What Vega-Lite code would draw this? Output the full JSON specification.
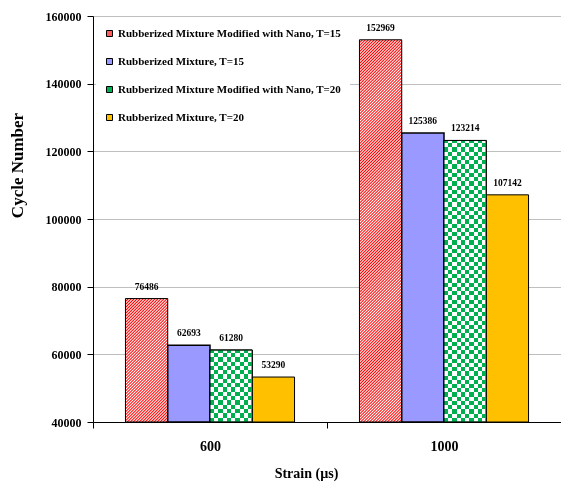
{
  "$schema": "https://vega.github.io/schema/vega-lite/v6.json",
  "width": 468,
  "height": 406,
  "autosize": {"type": "none"},
  "padding": {"left": 93, "top": 16, "right": 0, "bottom": 61},
  "background": "white",
  "config": {
    "view": {"stroke": null},
    "font": "Liberation Serif"
  },
  "data": {
    "values": [
      {"strain": "600", "series": "Rubberized Mixture Modified with Nano, T=15", "cycles": 76486},
      {"strain": "600", "series": "Rubberized Mixture, T=15", "cycles": 62693},
      {"strain": "600", "series": "Rubberized Mixture Modified with Nano, T=20", "cycles": 61280},
      {"strain": "600", "series": "Rubberized Mixture, T=20", "cycles": 53290},
      {"strain": "1000", "series": "Rubberized Mixture Modified with Nano, T=15", "cycles": 152969},
      {"strain": "1000", "series": "Rubberized Mixture, T=15", "cycles": 125386},
      {"strain": "1000", "series": "Rubberized Mixture Modified with Nano, T=20", "cycles": 123214},
      {"strain": "1000", "series": "Rubberized Mixture, T=20", "cycles": 107142}
    ]
  },
  "encoding": {
    "x": {
      "field": "strain",
      "type": "nominal",
      "sort": ["600", "1000"],
      "scale": {"paddingInner": 0, "paddingOuter": 0},
      "axis": {
        "title": "Strain (µs)",
        "tickBand": "extent",
        "grid": false,
        "domainColor": "black",
        "tickColor": "black",
        "tickSize": 6,
        "labelAngle": 0,
        "labelFontSize": 14,
        "labelFontWeight": "bold",
        "labelColor": "black",
        "labelPadding": 11,
        "titleFontSize": 14,
        "titleFontWeight": "bold",
        "titleColor": "black",
        "titleX": 213,
        "titleY": 55,
        "titleAlign": "center",
        "titleBaseline": "alphabetic"
      }
    },
    "xOffset": {
      "field": "series",
      "type": "nominal",
      "scale": {
        "domain": [
          "Rubberized Mixture Modified with Nano, T=15",
          "Rubberized Mixture, T=15",
          "Rubberized Mixture Modified with Nano, T=20",
          "Rubberized Mixture, T=20"
        ],
        "paddingInner": 0,
        "paddingOuter": 0.768
      }
    },
    "y": {
      "field": "cycles",
      "type": "quantitative",
      "scale": {"domain": [40000, 160000], "nice": false, "zero": false},
      "axis": {
        "title": "Cycle Number",
        "values": [40000, 60000, 80000, 100000, 120000, 140000, 160000],
        "format": "d",
        "grid": true,
        "gridColor": "#bfbfbf",
        "domainColor": "black",
        "tickColor": "black",
        "tickSize": 6,
        "labelFontSize": 12,
        "labelFontWeight": "bold",
        "labelColor": "black",
        "labelPadding": 6,
        "titleFontSize": 17,
        "titleFontWeight": "bold",
        "titleColor": "black",
        "titleX": -71,
        "titleY": 149,
        "titleAlign": "center",
        "titleBaseline": "alphabetic"
      }
    },
    "y2": {"datum": 40000}
  },
  "layer": [
    {
      "mark": {"type": "bar", "stroke": "black"},
      "encoding": {
        "strokeWidth": {
          "condition": {"test": "datum.series === 'Rubberized Mixture, T=15'", "value": 1.5},
          "value": 1
        },
        "fill": {
          "field": "series",
          "type": "nominal",
          "scale": {
            "domain": [
              "Rubberized Mixture Modified with Nano, T=15",
              "Rubberized Mixture, T=15",
              "Rubberized Mixture Modified with Nano, T=20",
              "Rubberized Mixture, T=20"
            ],
            "range": ["#ff5c5c", "#9999ff", "#00b050", "#ffc000"]
          },
          "condition": [
            {
              "test": "datum.series === 'Rubberized Mixture Modified with Nano, T=15' && datum.strain === '600'",
              "value": {
                "gradient": "linear", "x1": 0, "y1": 0, "x2": 0.4115, "y2": 1.2015,
                "stops": [
                  {"offset": 0, "color": "red"}, {"offset": 0.009, "color": "white"}, {"offset": 0.018, "color": "red"}, {"offset": 0.027, "color": "white"},
                  {"offset": 0.036, "color": "red"}, {"offset": 0.045, "color": "white"}, {"offset": 0.054, "color": "red"}, {"offset": 0.063, "color": "white"},
                  {"offset": 0.072, "color": "red"}, {"offset": 0.081, "color": "white"}, {"offset": 0.09, "color": "red"}, {"offset": 0.099, "color": "white"},
                  {"offset": 0.108, "color": "red"}, {"offset": 0.117, "color": "white"}, {"offset": 0.126, "color": "red"}, {"offset": 0.135, "color": "white"},
                  {"offset": 0.144, "color": "red"}, {"offset": 0.153, "color": "white"}, {"offset": 0.162, "color": "red"}, {"offset": 0.171, "color": "white"},
                  {"offset": 0.18, "color": "red"}, {"offset": 0.189, "color": "white"}, {"offset": 0.198, "color": "red"}, {"offset": 0.207, "color": "white"},
                  {"offset": 0.216, "color": "red"}, {"offset": 0.225, "color": "white"}, {"offset": 0.234, "color": "red"}, {"offset": 0.243, "color": "white"},
                  {"offset": 0.252, "color": "red"}, {"offset": 0.261, "color": "white"}, {"offset": 0.27, "color": "red"}, {"offset": 0.279, "color": "white"},
                  {"offset": 0.288, "color": "red"}, {"offset": 0.297, "color": "white"}, {"offset": 0.306, "color": "red"}, {"offset": 0.315, "color": "white"},
                  {"offset": 0.324, "color": "red"}, {"offset": 0.333, "color": "white"}, {"offset": 0.342, "color": "red"}, {"offset": 0.351, "color": "white"},
                  {"offset": 0.36, "color": "red"}, {"offset": 0.369, "color": "white"}, {"offset": 0.378, "color": "red"}, {"offset": 0.387, "color": "white"},
                  {"offset": 0.396, "color": "red"}, {"offset": 0.405, "color": "white"}, {"offset": 0.414, "color": "red"}, {"offset": 0.423, "color": "white"},
                  {"offset": 0.432, "color": "red"}, {"offset": 0.441, "color": "white"}, {"offset": 0.45, "color": "red"}, {"offset": 0.459, "color": "white"},
                  {"offset": 0.468, "color": "red"}, {"offset": 0.477, "color": "white"}, {"offset": 0.486, "color": "red"}, {"offset": 0.495, "color": "white"},
                  {"offset": 0.504, "color": "red"}, {"offset": 0.513, "color": "white"}, {"offset": 0.522, "color": "red"}, {"offset": 0.531, "color": "white"},
                  {"offset": 0.54, "color": "red"}, {"offset": 0.549, "color": "white"}, {"offset": 0.558, "color": "red"}, {"offset": 0.567, "color": "white"},
                  {"offset": 0.576, "color": "red"}, {"offset": 0.585, "color": "white"}, {"offset": 0.594, "color": "red"}, {"offset": 0.603, "color": "white"},
                  {"offset": 0.612, "color": "red"}, {"offset": 0.621, "color": "white"}, {"offset": 0.63, "color": "red"}, {"offset": 0.639, "color": "white"},
                  {"offset": 0.648, "color": "red"}, {"offset": 0.657, "color": "white"}, {"offset": 0.666, "color": "red"}, {"offset": 0.675, "color": "white"},
                  {"offset": 0.684, "color": "red"}, {"offset": 0.693, "color": "white"}, {"offset": 0.702, "color": "red"}, {"offset": 0.711, "color": "white"},
                  {"offset": 0.72, "color": "red"}, {"offset": 0.729, "color": "white"}, {"offset": 0.738, "color": "red"}, {"offset": 0.747, "color": "white"},
                  {"offset": 0.756, "color": "red"}, {"offset": 0.765, "color": "white"}, {"offset": 0.774, "color": "red"}, {"offset": 0.783, "color": "white"},
                  {"offset": 0.792, "color": "red"}, {"offset": 0.801, "color": "white"}, {"offset": 0.81, "color": "red"}, {"offset": 0.819, "color": "white"},
                  {"offset": 0.828, "color": "red"}, {"offset": 0.837, "color": "white"}, {"offset": 0.846, "color": "red"}, {"offset": 0.855, "color": "white"},
                  {"offset": 0.864, "color": "red"}, {"offset": 0.873, "color": "white"}, {"offset": 0.882, "color": "red"}, {"offset": 0.891, "color": "white"},
                  {"offset": 0.9, "color": "red"}, {"offset": 0.909, "color": "white"}, {"offset": 0.918, "color": "red"}, {"offset": 0.927, "color": "white"},
                  {"offset": 0.936, "color": "red"}, {"offset": 0.945, "color": "white"}, {"offset": 0.954, "color": "red"}, {"offset": 0.963, "color": "white"},
                  {"offset": 0.972, "color": "red"}, {"offset": 0.981, "color": "white"}, {"offset": 0.99, "color": "red"}, {"offset": 0.999, "color": "white"}
                ]
              }
            },
            {
              "test": "datum.series === 'Rubberized Mixture Modified with Nano, T=15' && datum.strain === '1000'",
              "value": {
                "gradient": "linear", "x1": 0, "y1": 0, "x2": 0.1213, "y2": 1.0972,
                "stops": [
                  {"offset": 0, "color": "red"}, {"offset": 0.0035, "color": "white"}, {"offset": 0.007, "color": "red"}, {"offset": 0.0105, "color": "white"}, {"offset": 0.014, "color": "red"}, {"offset": 0.0175, "color": "white"}, {"offset": 0.021, "color": "red"}, {"offset": 0.0245, "color": "white"}, {"offset": 0.028, "color": "red"}, {"offset": 0.0315, "color": "white"},
                  {"offset": 0.035, "color": "red"}, {"offset": 0.0385, "color": "white"}, {"offset": 0.042, "color": "red"}, {"offset": 0.0455, "color": "white"}, {"offset": 0.049, "color": "red"}, {"offset": 0.0525, "color": "white"}, {"offset": 0.056, "color": "red"}, {"offset": 0.0595, "color": "white"}, {"offset": 0.063, "color": "red"}, {"offset": 0.0665, "color": "white"},
                  {"offset": 0.07, "color": "red"}, {"offset": 0.0735, "color": "white"}, {"offset": 0.077, "color": "red"}, {"offset": 0.0805, "color": "white"}, {"offset": 0.084, "color": "red"}, {"offset": 0.0875, "color": "white"}, {"offset": 0.091, "color": "red"}, {"offset": 0.0945, "color": "white"}, {"offset": 0.098, "color": "red"}, {"offset": 0.1015, "color": "white"},
                  {"offset": 0.105, "color": "red"}, {"offset": 0.1085, "color": "white"}, {"offset": 0.112, "color": "red"}, {"offset": 0.1155, "color": "white"}, {"offset": 0.119, "color": "red"}, {"offset": 0.1225, "color": "white"}, {"offset": 0.126, "color": "red"}, {"offset": 0.1295, "color": "white"}, {"offset": 0.133, "color": "red"}, {"offset": 0.1365, "color": "white"},
                  {"offset": 0.14, "color": "red"}, {"offset": 0.1435, "color": "white"}, {"offset": 0.147, "color": "red"}, {"offset": 0.1505, "color": "white"}, {"offset": 0.154, "color": "red"}, {"offset": 0.1575, "color": "white"}, {"offset": 0.161, "color": "red"}, {"offset": 0.1645, "color": "white"}, {"offset": 0.168, "color": "red"}, {"offset": 0.1715, "color": "white"},
                  {"offset": 0.175, "color": "red"}, {"offset": 0.1785, "color": "white"}, {"offset": 0.182, "color": "red"}, {"offset": 0.1855, "color": "white"}, {"offset": 0.189, "color": "red"}, {"offset": 0.1925, "color": "white"}, {"offset": 0.196, "color": "red"}, {"offset": 0.1995, "color": "white"}, {"offset": 0.203, "color": "red"}, {"offset": 0.2065, "color": "white"},
                  {"offset": 0.21, "color": "red"}, {"offset": 0.2135, "color": "white"}, {"offset": 0.217, "color": "red"}, {"offset": 0.2205, "color": "white"}, {"offset": 0.224, "color": "red"}, {"offset": 0.2275, "color": "white"}, {"offset": 0.231, "color": "red"}, {"offset": 0.2345, "color": "white"}, {"offset": 0.238, "color": "red"}, {"offset": 0.2415, "color": "white"},
                  {"offset": 0.245, "color": "red"}, {"offset": 0.2485, "color": "white"}, {"offset": 0.252, "color": "red"}, {"offset": 0.2555, "color": "white"}, {"offset": 0.259, "color": "red"}, {"offset": 0.2625, "color": "white"}, {"offset": 0.266, "color": "red"}, {"offset": 0.2695, "color": "white"}, {"offset": 0.273, "color": "red"}, {"offset": 0.2765, "color": "white"},
                  {"offset": 0.28, "color": "red"}, {"offset": 0.2835, "color": "white"}, {"offset": 0.287, "color": "red"}, {"offset": 0.2905, "color": "white"}, {"offset": 0.294, "color": "red"}, {"offset": 0.2975, "color": "white"}, {"offset": 0.301, "color": "red"}, {"offset": 0.3045, "color": "white"}, {"offset": 0.308, "color": "red"}, {"offset": 0.3115, "color": "white"},
                  {"offset": 0.315, "color": "red"}, {"offset": 0.3185, "color": "white"}, {"offset": 0.322, "color": "red"}, {"offset": 0.3255, "color": "white"}, {"offset": 0.329, "color": "red"}, {"offset": 0.3325, "color": "white"}, {"offset": 0.336, "color": "red"}, {"offset": 0.3395, "color": "white"}, {"offset": 0.343, "color": "red"}, {"offset": 0.3465, "color": "white"},
                  {"offset": 0.35, "color": "red"}, {"offset": 0.3535, "color": "white"}, {"offset": 0.357, "color": "red"}, {"offset": 0.3605, "color": "white"}, {"offset": 0.364, "color": "red"}, {"offset": 0.3675, "color": "white"}, {"offset": 0.371, "color": "red"}, {"offset": 0.3745, "color": "white"}, {"offset": 0.378, "color": "red"}, {"offset": 0.3815, "color": "white"},
                  {"offset": 0.385, "color": "red"}, {"offset": 0.3885, "color": "white"}, {"offset": 0.392, "color": "red"}, {"offset": 0.3955, "color": "white"}, {"offset": 0.399, "color": "red"}, {"offset": 0.4025, "color": "white"}, {"offset": 0.406, "color": "red"}, {"offset": 0.4095, "color": "white"}, {"offset": 0.413, "color": "red"}, {"offset": 0.4165, "color": "white"},
                  {"offset": 0.42, "color": "red"}, {"offset": 0.4235, "color": "white"}, {"offset": 0.427, "color": "red"}, {"offset": 0.4305, "color": "white"}, {"offset": 0.434, "color": "red"}, {"offset": 0.4375, "color": "white"}, {"offset": 0.441, "color": "red"}, {"offset": 0.4445, "color": "white"}, {"offset": 0.448, "color": "red"}, {"offset": 0.4515, "color": "white"},
                  {"offset": 0.455, "color": "red"}, {"offset": 0.4585, "color": "white"}, {"offset": 0.462, "color": "red"}, {"offset": 0.4655, "color": "white"}, {"offset": 0.469, "color": "red"}, {"offset": 0.4725, "color": "white"}, {"offset": 0.476, "color": "red"}, {"offset": 0.4795, "color": "white"}, {"offset": 0.483, "color": "red"}, {"offset": 0.4865, "color": "white"},
                  {"offset": 0.49, "color": "red"}, {"offset": 0.4935, "color": "white"}, {"offset": 0.497, "color": "red"}, {"offset": 0.5005, "color": "white"}, {"offset": 0.504, "color": "red"}, {"offset": 0.5075, "color": "white"}, {"offset": 0.511, "color": "red"}, {"offset": 0.5145, "color": "white"}, {"offset": 0.518, "color": "red"}, {"offset": 0.5215, "color": "white"},
                  {"offset": 0.525, "color": "red"}, {"offset": 0.5285, "color": "white"}, {"offset": 0.532, "color": "red"}, {"offset": 0.5355, "color": "white"}, {"offset": 0.539, "color": "red"}, {"offset": 0.5425, "color": "white"}, {"offset": 0.546, "color": "red"}, {"offset": 0.5495, "color": "white"}, {"offset": 0.553, "color": "red"}, {"offset": 0.5565, "color": "white"},
                  {"offset": 0.56, "color": "red"}, {"offset": 0.5635, "color": "white"}, {"offset": 0.567, "color": "red"}, {"offset": 0.5705, "color": "white"}, {"offset": 0.574, "color": "red"}, {"offset": 0.5775, "color": "white"}, {"offset": 0.581, "color": "red"}, {"offset": 0.5845, "color": "white"}, {"offset": 0.588, "color": "red"}, {"offset": 0.5915, "color": "white"},
                  {"offset": 0.595, "color": "red"}, {"offset": 0.5985, "color": "white"}, {"offset": 0.602, "color": "red"}, {"offset": 0.6055, "color": "white"}, {"offset": 0.609, "color": "red"}, {"offset": 0.6125, "color": "white"}, {"offset": 0.616, "color": "red"}, {"offset": 0.6195, "color": "white"}, {"offset": 0.623, "color": "red"}, {"offset": 0.6265, "color": "white"},
                  {"offset": 0.63, "color": "red"}, {"offset": 0.6335, "color": "white"}, {"offset": 0.637, "color": "red"}, {"offset": 0.6405, "color": "white"}, {"offset": 0.644, "color": "red"}, {"offset": 0.6475, "color": "white"}, {"offset": 0.651, "color": "red"}, {"offset": 0.6545, "color": "white"}, {"offset": 0.658, "color": "red"}, {"offset": 0.6615, "color": "white"},
                  {"offset": 0.665, "color": "red"}, {"offset": 0.6685, "color": "white"}, {"offset": 0.672, "color": "red"}, {"offset": 0.6755, "color": "white"}, {"offset": 0.679, "color": "red"}, {"offset": 0.6825, "color": "white"}, {"offset": 0.686, "color": "red"}, {"offset": 0.6895, "color": "white"}, {"offset": 0.693, "color": "red"}, {"offset": 0.6965, "color": "white"},
                  {"offset": 0.7, "color": "red"}, {"offset": 0.7035, "color": "white"}, {"offset": 0.707, "color": "red"}, {"offset": 0.7105, "color": "white"}, {"offset": 0.714, "color": "red"}, {"offset": 0.7175, "color": "white"}, {"offset": 0.721, "color": "red"}, {"offset": 0.7245, "color": "white"}, {"offset": 0.728, "color": "red"}, {"offset": 0.7315, "color": "white"},
                  {"offset": 0.735, "color": "red"}, {"offset": 0.7385, "color": "white"}, {"offset": 0.742, "color": "red"}, {"offset": 0.7455, "color": "white"}, {"offset": 0.749, "color": "red"}, {"offset": 0.7525, "color": "white"}, {"offset": 0.756, "color": "red"}, {"offset": 0.7595, "color": "white"}, {"offset": 0.763, "color": "red"}, {"offset": 0.7665, "color": "white"},
                  {"offset": 0.77, "color": "red"}, {"offset": 0.7735, "color": "white"}, {"offset": 0.777, "color": "red"}, {"offset": 0.7805, "color": "white"}, {"offset": 0.784, "color": "red"}, {"offset": 0.7875, "color": "white"}, {"offset": 0.791, "color": "red"}, {"offset": 0.7945, "color": "white"}, {"offset": 0.798, "color": "red"}, {"offset": 0.8015, "color": "white"},
                  {"offset": 0.805, "color": "red"}, {"offset": 0.8085, "color": "white"}, {"offset": 0.812, "color": "red"}, {"offset": 0.8155, "color": "white"}, {"offset": 0.819, "color": "red"}, {"offset": 0.8225, "color": "white"}, {"offset": 0.826, "color": "red"}, {"offset": 0.8295, "color": "white"}, {"offset": 0.833, "color": "red"}, {"offset": 0.8365, "color": "white"},
                  {"offset": 0.84, "color": "red"}, {"offset": 0.8435, "color": "white"}, {"offset": 0.847, "color": "red"}, {"offset": 0.8505, "color": "white"}, {"offset": 0.854, "color": "red"}, {"offset": 0.8575, "color": "white"}, {"offset": 0.861, "color": "red"}, {"offset": 0.8645, "color": "white"}, {"offset": 0.868, "color": "red"}, {"offset": 0.8715, "color": "white"},
                  {"offset": 0.875, "color": "red"}, {"offset": 0.8785, "color": "white"}, {"offset": 0.882, "color": "red"}, {"offset": 0.8855, "color": "white"}, {"offset": 0.889, "color": "red"}, {"offset": 0.8925, "color": "white"}, {"offset": 0.896, "color": "red"}, {"offset": 0.8995, "color": "white"}, {"offset": 0.903, "color": "red"}, {"offset": 0.9065, "color": "white"},
                  {"offset": 0.91, "color": "red"}, {"offset": 0.9135, "color": "white"}, {"offset": 0.917, "color": "red"}, {"offset": 0.9205, "color": "white"}, {"offset": 0.924, "color": "red"}, {"offset": 0.9275, "color": "white"}, {"offset": 0.931, "color": "red"}, {"offset": 0.9345, "color": "white"}, {"offset": 0.938, "color": "red"}, {"offset": 0.9415, "color": "white"},
                  {"offset": 0.945, "color": "red"}, {"offset": 0.9485, "color": "white"}, {"offset": 0.952, "color": "red"}, {"offset": 0.9555, "color": "white"}, {"offset": 0.959, "color": "red"}, {"offset": 0.9625, "color": "white"}, {"offset": 0.966, "color": "red"}, {"offset": 0.9695, "color": "white"}, {"offset": 0.973, "color": "red"}, {"offset": 0.9765, "color": "white"},
                  {"offset": 0.98, "color": "red"}, {"offset": 0.9835, "color": "white"}, {"offset": 0.987, "color": "red"}, {"offset": 0.9905, "color": "white"}, {"offset": 0.994, "color": "red"}, {"offset": 0.9975, "color": "white"}
                ]
              }
            },
            {
              "test": "datum.series === 'Rubberized Mixture Modified with Nano, T=20'",
              "value": {
                "gradient": "linear", "x1": 0, "y1": 0, "x2": 1, "y2": 0,
                "stops": [
                  {"offset": 0, "color": "black"}, {"offset": 0.1, "color": "black"}, {"offset": 0.1, "color": "white"}, {"offset": 0.2, "color": "white"},
                  {"offset": 0.2, "color": "black"}, {"offset": 0.3, "color": "black"}, {"offset": 0.3, "color": "white"}, {"offset": 0.4, "color": "white"},
                  {"offset": 0.4, "color": "black"}, {"offset": 0.5, "color": "black"}, {"offset": 0.5, "color": "white"}, {"offset": 0.6, "color": "white"},
                  {"offset": 0.6, "color": "black"}, {"offset": 0.7, "color": "black"}, {"offset": 0.7, "color": "white"}, {"offset": 0.8, "color": "white"},
                  {"offset": 0.8, "color": "black"}, {"offset": 0.9, "color": "black"}, {"offset": 0.9, "color": "white"}, {"offset": 1, "color": "white"}
                ]
              }
            }
          ],
          "legend": {
            "title": null,
            "orient": "none",
            "legendX": 3,
            "legendY": 4,
            "padding": 8,
            "fillColor": "white",
            "symbolType": "square",
            "symbolSize": 36,
            "symbolStrokeColor": "black",
            "symbolStrokeWidth": 1,
            "labelFontSize": 11,
            "labelFontWeight": "bold",
            "labelColor": "black",
            "labelOffset": 3,
            "labelLimit": 400,
            "rowPadding": 16
          }
        }
      }
    },
    {
      "transform": [{"filter": "datum.series === 'Rubberized Mixture Modified with Nano, T=20'"}],
      "mark": {"type": "bar", "blend": "difference", "strokeWidth": 0},
      "encoding": {
        "fill": {
          "condition": {
            "test": "datum.strain === '600'",
            "value": {
              "gradient": "linear", "x1": 0, "y1": 1, "x2": 0, "y2": 0,
              "stops": [
                {"offset": 0, "color": "black"}, {"offset": 0.06, "color": "black"}, {"offset": 0.06, "color": "white"}, {"offset": 0.12, "color": "white"},
                {"offset": 0.12, "color": "black"}, {"offset": 0.18, "color": "black"}, {"offset": 0.18, "color": "white"}, {"offset": 0.24, "color": "white"},
                {"offset": 0.24, "color": "black"}, {"offset": 0.3, "color": "black"}, {"offset": 0.3, "color": "white"}, {"offset": 0.36, "color": "white"},
                {"offset": 0.36, "color": "black"}, {"offset": 0.42, "color": "black"}, {"offset": 0.42, "color": "white"}, {"offset": 0.48, "color": "white"},
                {"offset": 0.48, "color": "black"}, {"offset": 0.54, "color": "black"}, {"offset": 0.54, "color": "white"}, {"offset": 0.6, "color": "white"},
                {"offset": 0.6, "color": "black"}, {"offset": 0.66, "color": "black"}, {"offset": 0.66, "color": "white"}, {"offset": 0.72, "color": "white"},
                {"offset": 0.72, "color": "black"}, {"offset": 0.78, "color": "black"}, {"offset": 0.78, "color": "white"}, {"offset": 0.84, "color": "white"},
                {"offset": 0.84, "color": "black"}, {"offset": 0.9, "color": "black"}, {"offset": 0.9, "color": "white"}, {"offset": 0.96, "color": "white"},
                {"offset": 0.96, "color": "black"}, {"offset": 1, "color": "black"}
              ]
            }
          },
          "value": {
            "gradient": "linear", "x1": 0, "y1": 1, "x2": 0, "y2": 0,
            "stops": [
              {"offset": 0, "color": "black"}, {"offset": 0.015, "color": "black"}, {"offset": 0.015, "color": "white"}, {"offset": 0.03, "color": "white"},
              {"offset": 0.03, "color": "black"}, {"offset": 0.045, "color": "black"}, {"offset": 0.045, "color": "white"}, {"offset": 0.06, "color": "white"},
              {"offset": 0.06, "color": "black"}, {"offset": 0.075, "color": "black"}, {"offset": 0.075, "color": "white"}, {"offset": 0.09, "color": "white"},
              {"offset": 0.09, "color": "black"}, {"offset": 0.105, "color": "black"}, {"offset": 0.105, "color": "white"}, {"offset": 0.12, "color": "white"},
              {"offset": 0.12, "color": "black"}, {"offset": 0.135, "color": "black"}, {"offset": 0.135, "color": "white"}, {"offset": 0.15, "color": "white"},
              {"offset": 0.15, "color": "black"}, {"offset": 0.165, "color": "black"}, {"offset": 0.165, "color": "white"}, {"offset": 0.18, "color": "white"},
              {"offset": 0.18, "color": "black"}, {"offset": 0.195, "color": "black"}, {"offset": 0.195, "color": "white"}, {"offset": 0.21, "color": "white"},
              {"offset": 0.21, "color": "black"}, {"offset": 0.225, "color": "black"}, {"offset": 0.225, "color": "white"}, {"offset": 0.24, "color": "white"},
              {"offset": 0.24, "color": "black"}, {"offset": 0.255, "color": "black"}, {"offset": 0.255, "color": "white"}, {"offset": 0.27, "color": "white"},
              {"offset": 0.27, "color": "black"}, {"offset": 0.285, "color": "black"}, {"offset": 0.285, "color": "white"}, {"offset": 0.3, "color": "white"},
              {"offset": 0.3, "color": "black"}, {"offset": 0.315, "color": "black"}, {"offset": 0.315, "color": "white"}, {"offset": 0.33, "color": "white"},
              {"offset": 0.33, "color": "black"}, {"offset": 0.345, "color": "black"}, {"offset": 0.345, "color": "white"}, {"offset": 0.36, "color": "white"},
              {"offset": 0.36, "color": "black"}, {"offset": 0.375, "color": "black"}, {"offset": 0.375, "color": "white"}, {"offset": 0.39, "color": "white"},
              {"offset": 0.39, "color": "black"}, {"offset": 0.405, "color": "black"}, {"offset": 0.405, "color": "white"}, {"offset": 0.42, "color": "white"},
              {"offset": 0.42, "color": "black"}, {"offset": 0.435, "color": "black"}, {"offset": 0.435, "color": "white"}, {"offset": 0.45, "color": "white"},
              {"offset": 0.45, "color": "black"}, {"offset": 0.465, "color": "black"}, {"offset": 0.465, "color": "white"}, {"offset": 0.48, "color": "white"},
              {"offset": 0.48, "color": "black"}, {"offset": 0.495, "color": "black"}, {"offset": 0.495, "color": "white"}, {"offset": 0.51, "color": "white"},
              {"offset": 0.51, "color": "black"}, {"offset": 0.525, "color": "black"}, {"offset": 0.525, "color": "white"}, {"offset": 0.54, "color": "white"},
              {"offset": 0.54, "color": "black"}, {"offset": 0.555, "color": "black"}, {"offset": 0.555, "color": "white"}, {"offset": 0.57, "color": "white"},
              {"offset": 0.57, "color": "black"}, {"offset": 0.585, "color": "black"}, {"offset": 0.585, "color": "white"}, {"offset": 0.6, "color": "white"},
              {"offset": 0.6, "color": "black"}, {"offset": 0.615, "color": "black"}, {"offset": 0.615, "color": "white"}, {"offset": 0.63, "color": "white"},
              {"offset": 0.63, "color": "black"}, {"offset": 0.645, "color": "black"}, {"offset": 0.645, "color": "white"}, {"offset": 0.66, "color": "white"},
              {"offset": 0.66, "color": "black"}, {"offset": 0.675, "color": "black"}, {"offset": 0.675, "color": "white"}, {"offset": 0.69, "color": "white"},
              {"offset": 0.69, "color": "black"}, {"offset": 0.705, "color": "black"}, {"offset": 0.705, "color": "white"}, {"offset": 0.72, "color": "white"},
              {"offset": 0.72, "color": "black"}, {"offset": 0.735, "color": "black"}, {"offset": 0.735, "color": "white"}, {"offset": 0.75, "color": "white"},
              {"offset": 0.75, "color": "black"}, {"offset": 0.765, "color": "black"}, {"offset": 0.765, "color": "white"}, {"offset": 0.78, "color": "white"},
              {"offset": 0.78, "color": "black"}, {"offset": 0.795, "color": "black"}, {"offset": 0.795, "color": "white"}, {"offset": 0.81, "color": "white"},
              {"offset": 0.81, "color": "black"}, {"offset": 0.825, "color": "black"}, {"offset": 0.825, "color": "white"}, {"offset": 0.84, "color": "white"},
              {"offset": 0.84, "color": "black"}, {"offset": 0.855, "color": "black"}, {"offset": 0.855, "color": "white"}, {"offset": 0.87, "color": "white"},
              {"offset": 0.87, "color": "black"}, {"offset": 0.885, "color": "black"}, {"offset": 0.885, "color": "white"}, {"offset": 0.9, "color": "white"},
              {"offset": 0.9, "color": "black"}, {"offset": 0.915, "color": "black"}, {"offset": 0.915, "color": "white"}, {"offset": 0.93, "color": "white"},
              {"offset": 0.93, "color": "black"}, {"offset": 0.945, "color": "black"}, {"offset": 0.945, "color": "white"}, {"offset": 0.96, "color": "white"},
              {"offset": 0.96, "color": "black"}, {"offset": 0.975, "color": "black"}, {"offset": 0.975, "color": "white"}, {"offset": 0.99, "color": "white"},
              {"offset": 0.99, "color": "black"}, {"offset": 1, "color": "black"}
            ]
          }
        }
      }
    },
    {
      "transform": [{"filter": "datum.series === 'Rubberized Mixture Modified with Nano, T=20'"}],
      "mark": {"type": "bar", "fill": "#00b050", "blend": "lighten", "strokeWidth": 0}
    },
    {
      "transform": [{"filter": "datum.series === 'Rubberized Mixture Modified with Nano, T=20'"}],
      "mark": {"type": "bar", "filled": false, "stroke": "black", "strokeWidth": 1}
    },
    {
      "mark": {"type": "text", "dy": -12, "baseline": "middle", "fontSize": 9.5, "fontWeight": "bold", "color": "black"},
      "encoding": {
        "text": {"field": "cycles", "type": "quantitative", "format": "d"}
      }
    }
  ]
}
